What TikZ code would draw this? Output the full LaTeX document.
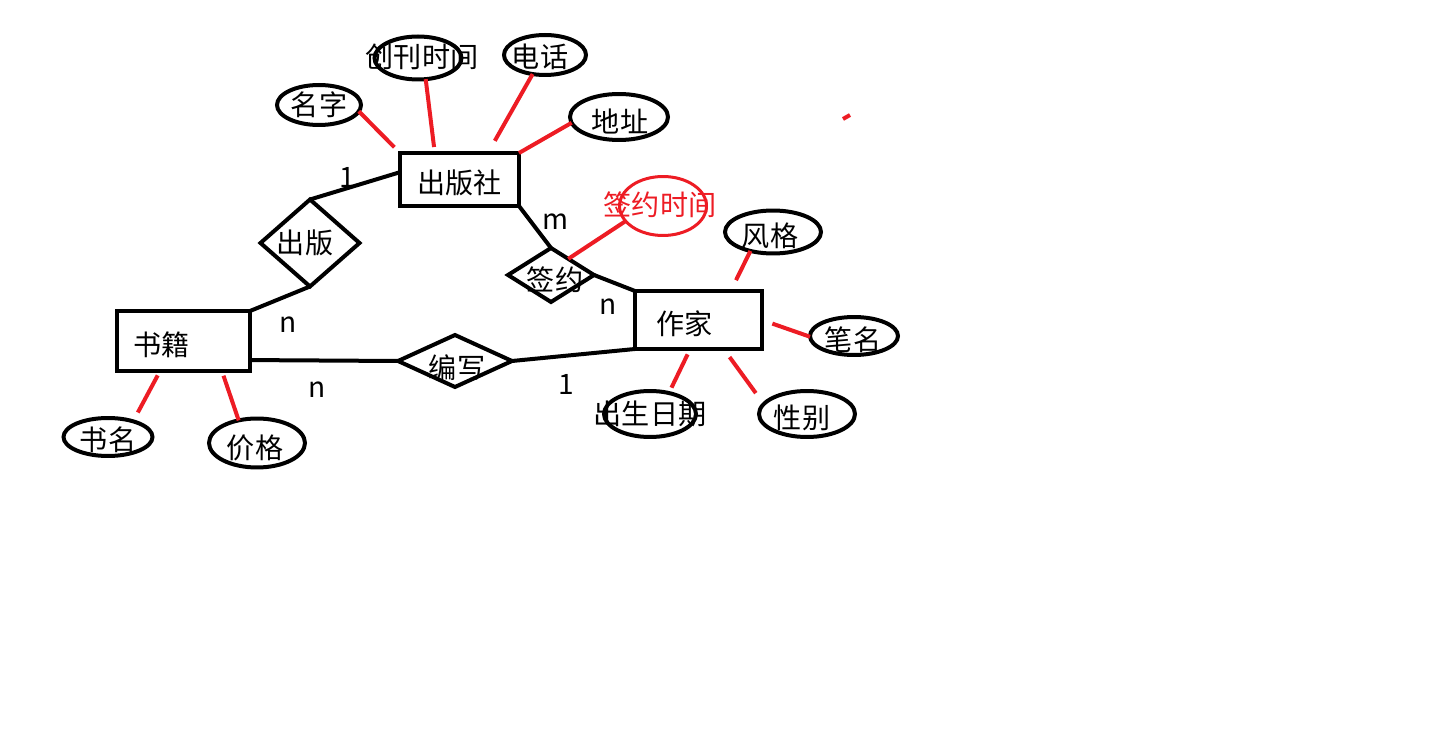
\documentclass[tikz,border=0pt]{standalone}
\usepackage{fontspec}
\setmainfont{Noto Sans CJK SC}
\usepackage{xcolor}
\usepackage{tikz}
\usetikzlibrary{shapes.geometric}
\definecolor{paintred}{HTML}{ED1C24}

\begin{document}
\begin{tikzpicture}[x=0.02cm, y=-0.02cm,
  font=\fontsize{16pt}{18pt}\selectfont,
  entity/.style={draw, rectangle, line width=0.08cm, inner sep=0pt, outer sep=0pt, text height=0.65cm, text depth=0.07cm},
  relation/.style={draw, diamond, line width=0.08cm, inner sep=0pt, outer sep=0pt},
  attr/.style={draw, ellipse, line width=0.08cm, inner sep=0pt, outer sep=0pt},
  link/.style={line width=0.08cm},
  attrlink/.style={draw=paintred, line width=0.08cm}]
	\useasboundingbox (0,0) rectangle (1434,736);

	% entities
	\node[entity, minimum width=2.38cm, minimum height=1.06cm] (chubanshe) at (459.5,179.5) {出版社};
	\node[entity, text width=2.02cm, inner xsep=0.32cm, minimum height=1.2cm, align=left] (shuji) at (183.5,341) {书籍};
	\node[entity, text width=1.70cm, inner xsep=0.42cm, minimum height=1.16cm, align=left] (zuojia) at (698.5,320) {作家};

	% relations
	\node[relation, minimum width=1.98cm, minimum height=1.74cm, label={[shift={(-5,0)}]center:出版}] (chuban) at (310,243) {};
	\node[relation, minimum width=1.72cm, minimum height=1.08cm, label={[shift={(4,5)}]center:签约}] (qianyue) at (551,275) {};
	\node[relation, minimum width=2.28cm, minimum height=1.04cm, label={[shift={(2,7)}]center:编写}] (bianxie) at (455,361) {};

	% attributes
	\node[attr, minimum width=1.68cm, minimum height=0.8cm, label=center:名字] (mingzi) at (319,105) {};
	\node[attr, minimum width=1.74cm, minimum height=0.86cm, label={[shift={(4,-1)}]center:创刊时间}] (chuankan) at (418,58) {};
	\node[attr, minimum width=1.64cm, minimum height=0.8cm, label={[shift={(-5,2)}]center:电话}] (dianhua) at (545,55) {};
	\node[attr, minimum width=1.96cm, minimum height=0.92cm, label={[shift={(1,4)}]center:地址}] (dizhi) at (619,117) {};
	\node[attr, draw=paintred, line width=0.06cm, minimum width=1.74cm, minimum height=1.18cm, label={[shift={(-3,-1)}, text=paintred]center:签约时间}] (qianyueshijian) at (663,206) {};
	\node[attr, minimum width=1.92cm, minimum height=0.86cm, label={[shift={(-3,4)}]center:风格}] (fengge) at (773,232) {};
	\node[attr, minimum width=1.76cm, minimum height=0.76cm, label={[shift={(-1,4)}]center:笔名}] (biming) at (854,336) {};
	\node[attr, minimum width=1.84cm, minimum height=0.92cm, label=center:出生日期] (chusheng) at (650,414) {};
	\node[attr, minimum width=1.92cm, minimum height=0.92cm, label={[shift={(-5,4)}]center:性别}] (xingbie) at (807,414) {};
	\node[attr, minimum width=1.78cm, minimum height=0.76cm, label={[shift={(0,3)}]center:书名}] (shuming) at (108,437) {};
	\node[attr, minimum width=1.92cm, minimum height=0.98cm, label={[shift={(-2,5)}]center:价格}] (jiage) at (257,443) {};

	% cardinalities
	\node (cardchuban) at (347,177) {1};
	\node (cardqianyue) at (556,222) {m};
	\node (cardshuji) at (288,325) {n};
	\node (cardbianxie) at (317,390) {n};
	\node (cardzuojia) at (608,307) {n};
	\node (cardxie) at (566,384) {1};

	% relation lines
	\draw[link] (chubanshe.173) -- (chuban.north);
	\draw[link] (chuban.south) -- (shuji.north east);
	\draw[link] (shuji.-16) -- (bianxie.west);
	\draw[link] (bianxie.east) -- (zuojia.south west);
	\draw[link] (chubanshe.south east) -- (qianyue.north);
	\draw[link] (qianyue.east) -- (zuojia.north west);

	% attribute lines
	\draw[attrlink, shorten >=0.16cm] (mingzi.-9) -- (chubanshe.north west);
	\draw[attrlink, shorten >=0.12cm] (chuankan.-70) -- (chubanshe.133);
	\draw[attrlink, shorten >=0.28cm] (dianhua.-123) -- (chubanshe.43);
	\draw[attrlink] (dizhi.-173) -- (chubanshe.north east);
	\draw[attrlink] (qianyue.43) -- (qianyueshijian.-158);
	\draw[attrlink, shorten >=0.24cm] (fengge.-140) -- (zuojia.42);
	\draw[attrlink, shorten <=0.22cm] (zuojia.east) -- (biming.181);
	\draw[attrlink, shorten <=0.12cm, shorten >=0.12cm] (zuojia.-106) -- (chusheng.48);
	\draw[attrlink, shorten <=0.2cm, shorten >=0.27cm] (zuojia.-49) -- (xingbie.167);
	\draw[attrlink, shorten <=0.1cm, shorten >=0.2cm] (shuji.-128) -- (shuming.32);
	\draw[attrlink, shorten <=0.1cm] (shuji.-38) -- (jiage.129);

	% stray mark
	\draw[attrlink] (843,119) -- (850,115);
\end{tikzpicture}
\end{document}
